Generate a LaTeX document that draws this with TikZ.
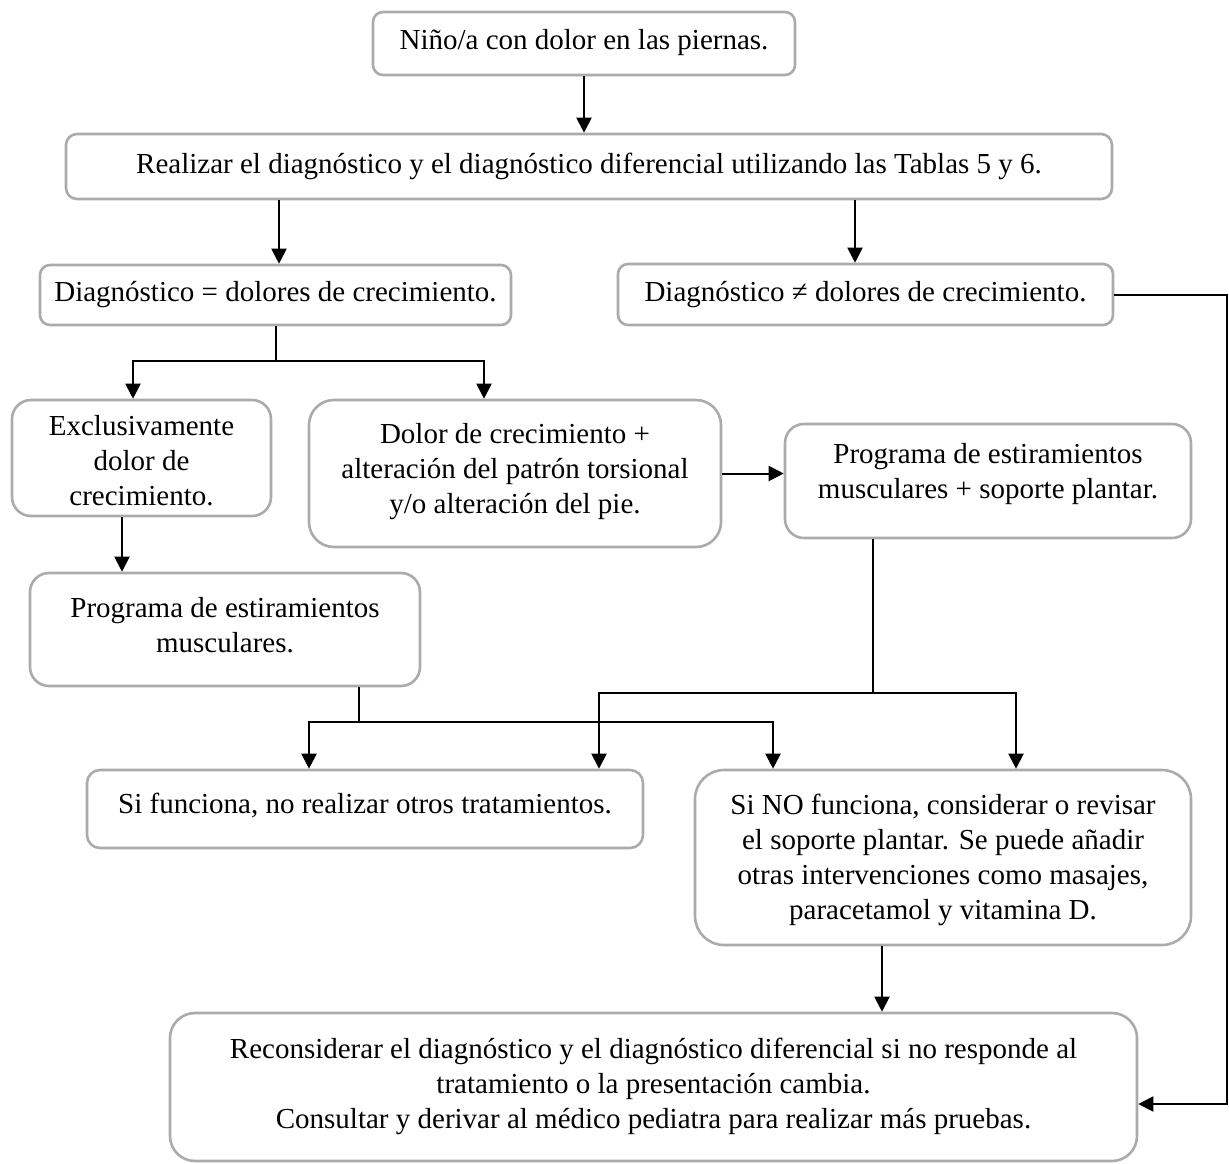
\documentclass[tikz,border=0pt]{standalone}
\usepackage{fontspec}
\setmainfont{Liberation Serif}
\usetikzlibrary{arrows.meta}
\tikzset{
  box/.style={draw=black!33, line width=2.6pt, inner sep=0pt},
  txt/.style={align=center, inner sep=0pt, font=\fontsize{29}{35}\selectfont},
  arr/.style={line width=2pt, -{Triangle[length=15pt,width=15pt]}},
  ln/.style={line width=2pt},
}
\begin{document}
\begin{tikzpicture}[x=1pt,y=-1pt]
    \useasboundingbox (0,0) rectangle (1229,1163);
    % boxes
    \node [box,minimum width=422,minimum height=63,rounded corners=10] (nino) at (584,43.5) {};
    \node [box,minimum width=1046,minimum height=65,rounded corners=11] (real) at (589,166.5) {};
    \node [box,minimum width=471,minimum height=60,rounded corners=10] (diageq) at (275.5,295) {};
    \node [box,minimum width=495,minimum height=61,rounded corners=10] (diagne) at (865.5,294.5) {};
    \node [box,minimum width=259,minimum height=116,rounded corners=19] (excl) at (141.5,458) {};
    \node [box,minimum width=412,minimum height=147,rounded corners=25] (dolcre) at (515,473.5) {};
    \node [box,minimum width=406,minimum height=114,rounded corners=19] (progsop) at (988,481) {};
    \node [box,minimum width=390,minimum height=113,rounded corners=19] (progmus) at (225,629.5) {};
    \node [box,minimum width=556,minimum height=78,rounded corners=13] (sifun) at (365,809) {};
    \node [box,minimum width=496,minimum height=175,rounded corners=29] (sino) at (943,857.5) {};
    \node [box,minimum width=967,minimum height=148,rounded corners=25] (recon) at (653.5,1087) {};
    % texts
    \node [txt] (nino-t) at (584,43) {Niño/a con dolor en las piernas.};
    \node [txt] (real-t) at (589,166) {Realizar el diagnóstico y el diagnóstico diferencial utilizando las Tablas 5 y 6.};
    \node [txt] (diageq-t) at (275.5,295) {Diagnóstico = dolores de crecimiento.};
    \node [txt] (diagne-t) at (865.5,295) {Diagnóstico ≠ dolores de crecimiento.};
    \node [txt] (excl-t) at (141.5,461) {Exclusivamente\\dolor de\\crecimiento.};
    \node [txt] (dolcre-t) at (515,472) {Dolor de crecimiento +\\alteración del patrón torsional\\y/o alteración del pie.};
    \node [txt] (progsop-t) at (988,474) {Programa de estiramientos\\musculares + soporte plantar.};
    \node [txt] (progmus-t) at (225,625) {Programa de estiramientos\\musculares.};
    \node [txt] (sifun-t) at (365,806) {Si funciona, no realizar otros tratamientos.};
    \node [txt] (sino-t) at (943,860) {Si NO funciona, considerar o revisar\\el soporte plantar. Se puede añadir\\otras intervenciones como masajes,\\paracetamol y vitamina D.};
    \node [txt] (recon-t) at (653.5,1086) {Reconsiderar el diagnóstico y el diagnóstico diferencial si no responde al\\tratamiento o la presentación cambia.\\Consultar y derivar al médico pediatra para realizar más pruebas.};
    % arrow ends
    \coordinate (a1) at ([xshift=3.5pt]diageq.north);
    \coordinate (a2) at ([xshift=-10.5pt]diagne.north);
    \coordinate (a3) at ([xshift=-19.5pt]excl.south);
    \coordinate (a4) at ([xshift=-61pt]sino.south);
    \coordinate (b1) at ([yshift=-35pt]diageq.south);
    \coordinate (b2) at ([xshift=134pt,yshift=-35pt]progmus.south);
    \coordinate (b3) at ([xshift=-115pt,yshift=-154pt]progsop.south);
    \coordinate (c1) at (1227,294.5);
    \coordinate (c2) at ([yshift=-17pt]recon.east);
    % connectors
    \draw [arr] (nino.south) -- (nino.south |- real.north);
    \draw [arr] (real.south -| a1) -- (a1);
    \draw [arr] (real.south -| a2) -- (a2);
    \draw [ln] (diageq.south) -- (b1);
    \draw [arr] (b1) -| ([xshift=-8.5pt]excl.north);
    \draw [arr] (b1) -| ([xshift=-31pt]dolcre.north);
    \draw [arr] (dolcre.east) -- (dolcre.east -| progsop.west);
    \draw [arr] (a3) -- (a3 |- progmus.north);
    \draw [ln] (b2 |- progmus.south) -- (b2);
    \draw [arr] (b2) -| ([xshift=-56pt]sifun.north);
    \draw [arr] (b2) -| ([xshift=-170pt]sino.north);
    \draw [ln] (b3 |- progsop.south) -- (b3);
    \draw [arr] (b3) -| ([xshift=234pt]sifun.north);
    \draw [arr] (b3) -| ([xshift=73pt]sino.north);
    \draw [arr] (a4) -- (a4 |- recon.north);
    \draw [arr] (diagne.east) -- (c1) |- (c2 -| recon.east);
\end{tikzpicture}
\end{document}
